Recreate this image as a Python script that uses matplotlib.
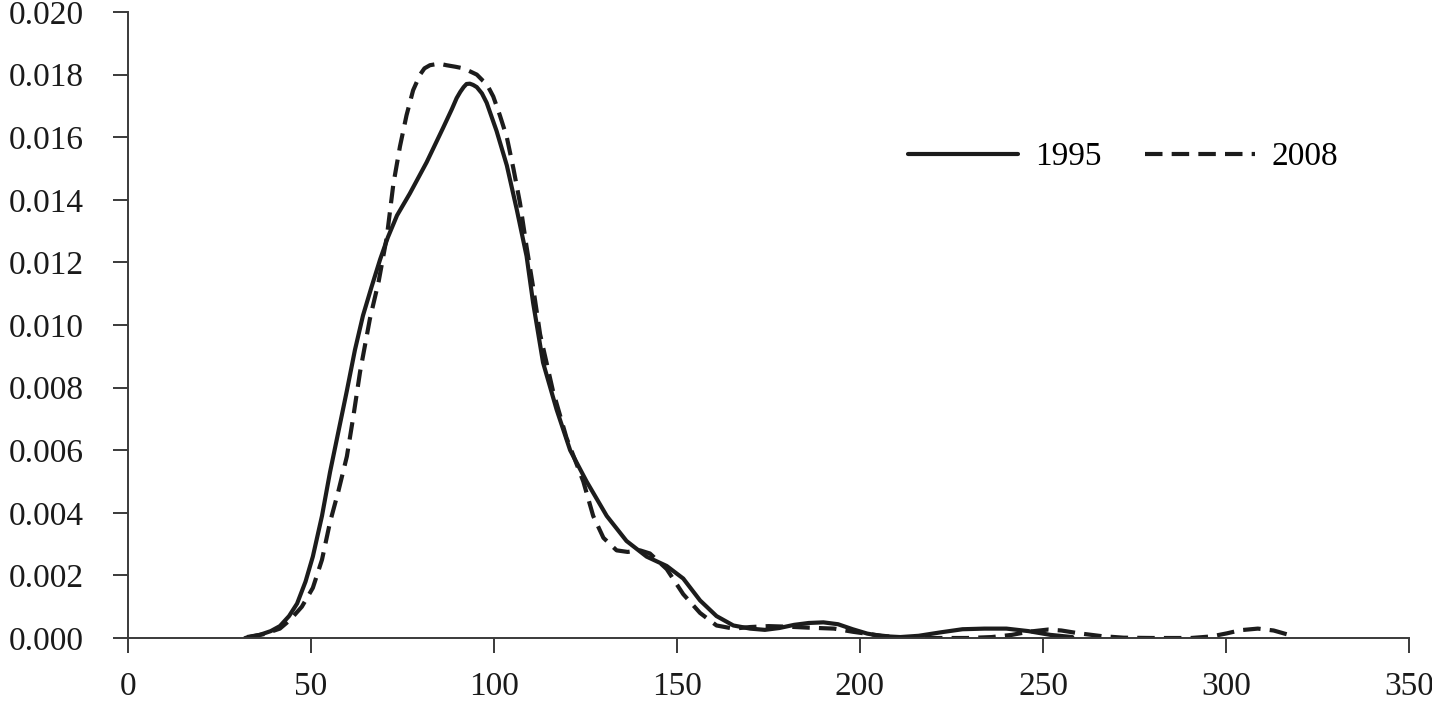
import matplotlib
matplotlib.use("Agg")
import matplotlib.pyplot as plt

plt.rcParams['font.family'] = ['Liberation Serif', 'DejaVu Serif']

# ---- data ----
x_1995 = [32, 36, 39, 41.5, 44, 46.2, 48.5, 50.5, 53, 55.2, 57.5, 59.8, 62, 64.2, 66.5,
          68.9, 71, 73.5, 77, 81.6, 86.1, 88.5, 89.8, 90.8, 91.7, 92.5, 93.4, 94.3, 95.3,
          96.7, 98, 100.7, 103.5, 106.2, 108.9, 110.7, 113.4, 117.1, 120.8, 125.3, 130.8,
          136.2, 141.7, 147.2, 151.7, 156.3, 160.8, 165.4, 170, 174, 178, 182, 186, 190,
          194, 198, 202, 206, 211, 216, 222, 228, 234, 240, 246, 252, 258]
y_1995 = [0.0, 0.0001, 0.00022, 0.00038, 0.0007, 0.0011, 0.0018, 0.0026, 0.0039, 0.0053,
          0.0066, 0.0079, 0.0092, 0.0103, 0.0112, 0.0121, 0.0128, 0.0135, 0.0142, 0.0152,
          0.0163, 0.0169, 0.01725, 0.01745, 0.0176, 0.0177, 0.01771, 0.01767, 0.0176,
          0.0174, 0.0171, 0.0162, 0.0151, 0.0137, 0.0122, 0.0107, 0.0088, 0.0073, 0.0060,
          0.0050, 0.0039, 0.0031, 0.0026, 0.0023, 0.0019, 0.0012, 0.0007, 0.0004, 0.0003,
          0.00026, 0.00032, 0.00042, 0.00048, 0.0005, 0.00044, 0.00028, 0.00014, 0.00006,
          0.00003, 0.00007, 0.00018, 0.00028, 0.0003, 0.0003, 0.00022, 0.0001, 0.00003]

x_2008 = [32.5, 37, 41.5, 44.3, 47.5, 50.5, 53, 55.2, 57.5, 59.8, 61.6, 63.4, 66.1, 68.5,
          70.7, 72.5, 74.3, 76.1, 77.9, 79.8, 81, 82.5, 85, 87, 89.5, 91.6, 93.5, 95.3, 97,
          98, 99.8, 101.6, 103.5, 105.3, 107.1, 108.9, 110.7, 112.6, 116.1, 119.8, 124.4,
          127.1, 129.9, 133.5, 136.5, 139.9, 142.6, 147.2, 151.7, 156.3, 160.8, 165.4, 170,
          175, 180.6, 186, 192.9, 198, 204, 211, 220, 229.5, 236, 241.5, 246, 251.4, 255,
          259.8, 266, 272, 280, 290.4, 296, 300.3, 304, 308.7, 313, 317.2]
y_2008 = [0.00003, 0.00012, 0.0003, 0.00058, 0.001, 0.0016, 0.0025, 0.0037, 0.0047, 0.0058,
          0.0071, 0.0085, 0.0102, 0.0114, 0.0128, 0.0145, 0.0157, 0.0167, 0.0175, 0.0180,
          0.0182, 0.0183, 0.01835, 0.0183, 0.01825, 0.0182, 0.0181, 0.0180, 0.0178, 0.0177,
          0.0173, 0.0167, 0.0160, 0.0150, 0.0139, 0.0125, 0.0112, 0.0097, 0.0079, 0.0064,
          0.0050, 0.0039, 0.0032, 0.0028, 0.00275, 0.0028, 0.0027, 0.0022, 0.0014, 0.0008,
          0.0004, 0.0003, 0.00035, 0.00038, 0.00036, 0.00033, 0.0003, 0.0002, 0.0001,
          0.00001, 0.0, 0.0, 0.00003, 0.0001, 0.0002, 0.00027, 0.00024, 0.00015, 0.00006,
          0.00001, 0.0, 0.0, 0.00005, 0.00015, 0.00025, 0.0003, 0.00024, 0.0001]

x_ticks = [0, 50, 100, 150, 200, 250, 300, 350]
y_ticks = [0.000, 0.002, 0.004, 0.006, 0.008, 0.010, 0.012, 0.014, 0.016, 0.018, 0.020]
series_labels = ['1995', '2008']

# ---- figure ----
fig = plt.figure(figsize=(14.32, 7.04), dpi=100)
ax = fig.add_axes([128/1432, 66/704, (1409-128)/1432, (638-12)/704])

line_color = '#1c1c1c'
ax.plot(x_1995, y_1995, color=line_color, lw=3.0, solid_joinstyle='round',
        solid_capstyle='round', label=series_labels[0])
ax.plot(x_2008, y_2008, color=line_color, lw=3.0, linestyle=(0, (4.2, 2.2)),
        dash_joinstyle='round', label=series_labels[1])

ax.set_xlim(0, 350)
ax.set_ylim(0, 0.020)
ax.set_xticks(x_ticks)
ax.set_yticks(y_ticks)
ax.set_xticklabels([str(v) for v in x_ticks])
ax.set_yticklabels([f"{v:.3f}" for v in y_ticks])

for s in ['top', 'right']:
    ax.spines[s].set_visible(False)
for s in ['left', 'bottom']:
    ax.spines[s].set_color('#3a3a3a')
    ax.spines[s].set_linewidth(1.4)

ax.tick_params(axis='both', direction='out', length=11, width=1.4, color='#3a3a3a',
               labelsize=24, labelcolor='#1a1a1a')
ax.tick_params(axis='y', pad=21)
ax.tick_params(axis='x', pad=13)

leg = ax.legend(loc='center left', bbox_to_anchor=(908/1432, (704-157)/704),
                bbox_transform=fig.transFigure, ncol=2, frameon=False,
                fontsize=24, handlelength=3.3, handletextpad=0.5, columnspacing=1.3,
                borderaxespad=0, borderpad=0)

fig.savefig('out.png', dpi=100, facecolor='white')
